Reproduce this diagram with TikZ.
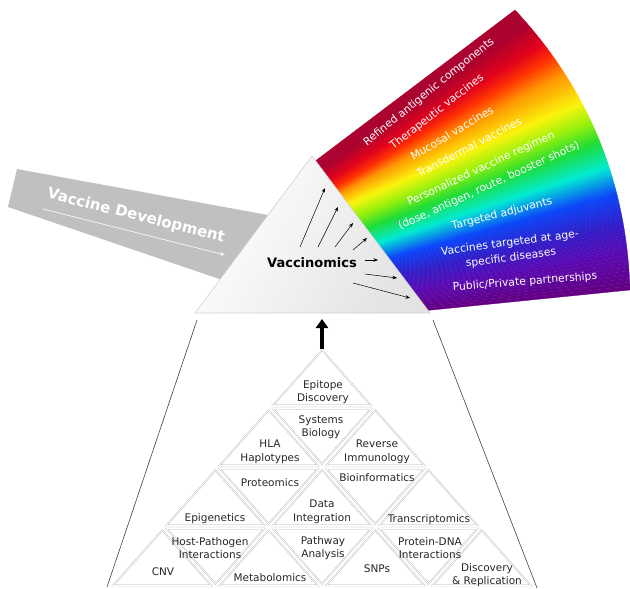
\documentclass[tikz,border=0pt]{standalone}
\usepackage{fontspec}
\setmainfont{DejaVu Sans}
\usetikzlibrary{arrows.meta,calc}
\definecolor{rbA}{RGB}{170,0,45}
\definecolor{rbB}{RGB}{228,0,25}
\definecolor{rbC}{RGB}{255,45,0}
\definecolor{rbD}{RGB}{255,150,0}
\definecolor{rbE}{RGB}{250,245,10}
\definecolor{rbF}{RGB}{150,240,10}
\definecolor{rbG}{RGB}{30,220,50}
\definecolor{rbH}{RGB}{0,235,210}
\definecolor{rbI}{RGB}{10,70,250}
\definecolor{rbJ}{RGB}{50,30,200}
\definecolor{rbK}{RGB}{90,10,180}
\definecolor{rbL}{RGB}{100,0,130}
\definecolor{bandgray}{RGB}{192,192,192}
\begin{document}
\begin{tikzpicture}[x=1pt,y=-1pt,
  tri/.style={draw=gray!65, double=white, double distance=0.8pt, line width=0.35pt},
  lbl/.style={font=\fontsize{10.5}{13.5}\selectfont, align=center, inner sep=0pt, text=black!85},
  rlbl/.style={font=\fontsize{10.8}{12}\selectfont, text=white, inner sep=0pt},
  thin arrow/.style={black, line width=0.5pt, -{Stealth[length=4.5pt,width=3.5pt]}}]
\useasboundingbox (0,0) rectangle (630,589);

% ---------- rainbow fan ----------
\foreach \ta/\tb/\oa/\ob/\ca/\cb in {0/0.06/0/0.06/rbA/rbA, 0.06/0.13/0.06/0.14/rbA/rbB, 0.13/0.18/0.14/0.19/rbB/rbC, 0.18/0.22/0.19/0.26/rbC/rbD, 0.22/0.29/0.26/0.37/rbD/rbE, 0.29/0.37/0.37/0.44/rbE/rbF, 0.37/0.45/0.44/0.51/rbF/rbG, 0.45/0.55/0.51/0.6/rbG/rbH, 0.55/0.65/0.6/0.69/rbH/rbI, 0.65/0.76/0.69/0.79/rbI/rbJ, 0.76/0.87/0.79/0.88/rbJ/rbK, 0.87/1/0.88/1/rbK/rbL}{
  \foreach \j in {0,...,9}{
    \pgfmathsetmacro\tu{\ta+(\tb-\ta)*\j/10}
    \pgfmathsetmacro\tv{\ta+(\tb-\ta)*(\j+1)/10}
    \pgfmathsetmacro\su{\oa+(\ob-\oa)*\j/10}
    \pgfmathsetmacro\sv{\oa+(\ob-\oa)*(\j+1)/10}
    \pgfmathtruncatemacro\pc{100-(\j+0.5)*10}
    \pgfmathsetmacro\pux{310+112*\tu}
    \pgfmathsetmacro\puy{165+146*\tu}
    \pgfmathsetmacro\pvx{310+112*\tv}
    \pgfmathsetmacro\pvy{165+146*\tv}
    \pgfmathsetmacro\qux{(1-\su)*(1-\su)*515+2*\su*(1-\su)*625+\su*\su*630}
    \pgfmathsetmacro\quy{(1-\su)*(1-\su)*10+2*\su*(1-\su)*128+\su*\su*290}
    \pgfmathsetmacro\qvx{(1-\sv)*(1-\sv)*515+2*\sv*(1-\sv)*625+\sv*\sv*630}
    \pgfmathsetmacro\qvy{(1-\sv)*(1-\sv)*10+2*\sv*(1-\sv)*128+\sv*\sv*290}
    \filldraw[draw=\ca!\pc!\cb, fill=\ca!\pc!\cb, line width=0.3pt]
      (\pux,\puy) -- (\qux,\quy) -- (\qvx,\qvy) -- (\pvx,\pvy) -- cycle;
  }
}

% ---------- vaccine development band ----------
\fill[bandgray] (17,169) -- (295,220) -- (240,286) -- (8,207) -- cycle;
\node[text=white, font=\bfseries\fontsize{15}{17}\selectfont, rotate=-14, inner sep=0pt] (vdev) at (136,216) {Vaccine Development};
\coordinate (vdA) at (43,209);
\coordinate (vdB) at (225,255);
\draw[white, line width=0.6pt, -{Stealth[length=5pt,width=3.5pt]}] (vdA) -- (vdB);

% ---------- prism ----------
\coordinate (pa) at (312,156);
\coordinate (pl) at (195,313);
\coordinate (pr) at (430,313);
\shade[shading=axis, top color=white, middle color=white, bottom color=gray!22, shading angle=60]
  (pa) -- (pl) -- (pr) -- cycle;
\draw[gray!35, line width=0.6pt] (pa) -- (pl) -- (pr) -- cycle;

\node[font=\bfseries\fontsize{13}{15}\selectfont, inner sep=1pt] (vacc) at (312,263) {Vaccinomics};

\foreach \sx/\sy/\ex/\ey [count=\i] in {300/247/325/188, 318/247/338/207, 335/247/353/223, 353/250/367/238, 365/260/378/260, 365/274/397/278, 353/283/410/298}{
  \coordinate (as\i) at (\sx,\sy);
  \coordinate (ae\i) at (\ex,\ey);
  \draw[thin arrow] (as\i) -- (ae\i);
}

% ---------- rainbow labels ----------
\node[rlbl, rotate=39] (r1) at (429,92) {Refined antigenic components};
\node[rlbl, rotate=38] (r2) at (437,112) {Therapeutic vaccines};
\node[rlbl, rotate=31] (r3) at (452,133) {Mucosal vaccines};
\node[rlbl, rotate=27.5] (r4) at (469,147) {Transdermal vaccines};
\node[rlbl, rotate=25] (r5) at (481,169) {Personalized vaccine regimen};
\node[rlbl, rotate=24.5] (r6) at (489,186) {(dose, antigen, route, booster shots)};
\node[rlbl, rotate=14.5] (r7) at (502,214) {Targeted adjuvants};
\node[rlbl, rotate=7.5] (r8) at (510,243) {Vaccines targeted at age-};
\node[rlbl, rotate=7.5] (r9) at (511,258) {specific diseases};
\node[rlbl, rotate=4.5] (r10) at (525,282) {Public/Private partnerships};

% ---------- thick arrow ----------
\coordinate (tkA) at (322,349);
\coordinate (tkB) at (322,319);
\draw[black, line width=4pt, -{Triangle[length=9pt,width=12pt]}] (tkA) -- (tkB);

% ---------- outline of base ----------
\coordinate (tl) at (197,320);
\coordinate (bl) at (107,587);
\coordinate (tr) at (433,320);
\coordinate (br) at (537,588);
\draw[black!75, line width=0.6pt] (tl) -- (bl);
\draw[black!75, line width=0.6pt] (tr) -- (br);

% ---------- pyramid of triangles ----------
\foreach \r in {0,1,2,3}{
  \foreach \k in {0,...,\r}{
    \pgfmathsetmacro\X{322+(\k-\r/2)*106.5}
    \pgfmathsetmacro\Y{347+60*\r}
    \draw[tri] (\X,\Y+3.2) -- (\X+49,\Y+58.4) -- (\X-49,\Y+58.4) -- cycle;
  }
}
\foreach \r in {1,2,3}{
  \pgfmathtruncatemacro\kmax{\r-1}
  \foreach \k in {0,...,\kmax}{
    \pgfmathsetmacro\X{322+(\k-(\r-1)/2)*106.5}
    \pgfmathsetmacro\Y{347+60*\r}
    \draw[tri] (\X-49,\Y+1.6) -- (\X+49,\Y+1.6) -- (\X,\Y+56.8) -- cycle;
  }
}

\node[lbl] (t1) at (323,392) {Epitope\\Discovery};
\node[lbl] (t2) at (321,427) {Systems\\Biology};
\node[lbl] (t3) at (270,452) {HLA\\Haplotypes};
\node[lbl] (t4) at (377,452) {Reverse\\Immunology};
\node[lbl] (t5) at (270,483) {Proteomics};
\node[lbl] (t6) at (377,478) {Bioinformatics};
\node[lbl] (t7) at (322,512) {Data\\Integration};
\node[lbl] (t8) at (215,519) {Epigenetics};
\node[lbl] (t9) at (429,520) {Transcriptomics};
\node[lbl] (t10) at (210,548) {Host-Pathogen\\Interactions};
\node[lbl] (t11) at (323,548) {Pathway\\Analysis};
\node[lbl] (t12) at (430,548) {Protein-DNA\\Interactions};
\node[lbl] (t13) at (163,572) {CNV};
\node[lbl] (t14) at (270,578) {Metabolomics};
\node[lbl] (t15) at (377,569) {SNPs};
\node[lbl] (t16) at (487,575) {Discovery\\\& Replication};
\end{tikzpicture}
\end{document}
